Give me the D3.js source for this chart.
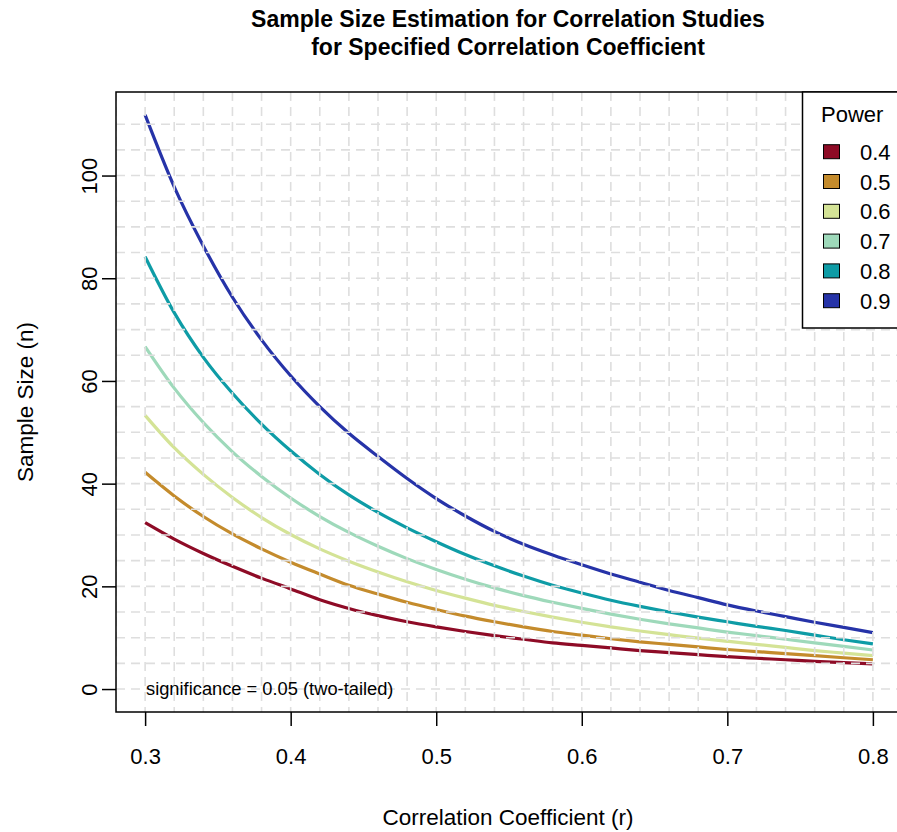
<!DOCTYPE html>
<html>
<head>
<meta charset="utf-8">
<script src="https://cdn.jsdelivr.net/npm/d3@7"></script>
<style>
  html, body { margin: 0; padding: 0; background: #fff; }
  svg { display: block; font-family: "Liberation Sans", Arial, sans-serif; }
</style>
</head>
<body>
<svg id="chart" width="897" height="832"></svg>
<script>
// ---- data ----
const rValues = [0.30,0.32,0.34,0.36,0.38,0.40,0.42,0.44,0.46,0.48,0.50,0.52,0.54,0.56,0.58,0.60,0.62,0.64,0.66,0.68,0.70,0.72,0.74,0.76,0.78,0.80];
const power04 = [32.4,29.2,26.4,23.9,21.6,19.5,17.4,15.7,14.3,13.1,12.1,11.2,10.4,9.7,9.0,8.5,8.0,7.5,7.1,6.7,6.3,6.0,5.7,5.4,5.15,4.9];
const power05 = [42.2,37.6,33.6,30.2,27.3,24.7,22.4,20.2,18.5,16.9,15.5,14.2,13.1,12.1,11.2,10.5,9.8,9.2,8.7,8.2,7.7,7.3,6.9,6.5,6.1,5.7];
const power06 = [53.3,47.0,41.8,37.3,33.4,30.1,27.3,24.9,22.8,20.9,19.2,17.7,16.3,15.1,14.0,13.0,12.1,11.3,10.6,9.9,9.3,8.7,8.1,7.5,7.0,6.5];
const power07 = [66.7,58.6,51.9,46.2,41.4,37.2,33.6,30.5,27.8,25.4,23.3,21.4,19.7,18.2,16.9,15.7,14.6,13.6,12.7,11.9,11.1,10.4,9.7,9.0,8.3,7.6];
const power08 = [84.2,73.3,64.6,57.6,51.6,46.4,41.8,37.8,34.4,31.4,28.7,26.2,24.0,22.0,20.2,18.7,17.3,16.1,15.0,14.0,13.1,12.2,11.4,10.5,9.6,8.8];
const power09 = [111.8,97.8,86.3,76.3,68.0,61.0,55.0,49.8,45.3,41.0,37.1,33.7,30.7,28.2,26.1,24.2,22.4,20.8,19.2,17.8,16.4,15.2,14.1,13.0,12.0,11.0];
const powerLabels = ["0.4","0.5","0.6","0.7","0.8","0.9"];
const seriesColors = ["#8E0B26","#C48B2C","#D4E396","#9ED9BA","#0E9CA6","#2633A8"];
const xTicks = [0.3,0.4,0.5,0.6,0.7,0.8];
const yTicks = [0,20,40,60,80,100];
const xGrid = d3.range(0.28, 0.8201, 0.02);
const yGrid = d3.range(0, 111, 5);

const seriesValues = [power04, power05, power06, power07, power08, power09];

// ---- layout ----
const svg = d3.select("#chart");
const plot = { left: 116, right: 902, top: 92, bottom: 712 };

const x = d3.scaleLinear().domain([0.28, 0.82]).range([plot.left, plot.right]);
const y = d3.scaleLinear().domain([-4.47, 116.27]).range([plot.bottom, plot.top]);

svg.append("defs").append("clipPath").attr("id", "clip")
  .append("rect").attr("x", plot.left).attr("y", plot.top)
  .attr("width", plot.right - plot.left).attr("height", plot.bottom - plot.top);

// curves
const line = d3.line()
  .x((d, i) => x(rValues[i]))
  .y(d => y(d))
  .curve(d3.curveMonotoneX);

const gLines = svg.append("g").attr("clip-path", "url(#clip)");
seriesValues.forEach((vals, k) => {
  gLines.append("path")
    .datum(vals)
    .attr("d", line)
    .attr("fill", "none")
    .attr("stroke", seriesColors[k])
    .attr("stroke-width", 3.2)
    .attr("stroke-linejoin", "round");
});

// grid drawn on top (as in reference)
const gGrid = svg.append("g").attr("clip-path", "url(#clip)");
gGrid.selectAll("line.v").data(xGrid).join("line")
  .attr("x1", d => x(d)).attr("x2", d => x(d))
  .attr("y1", plot.top).attr("y2", plot.bottom)
  .attr("stroke", "#dedede").attr("stroke-width", 1.6)
  .attr("stroke-dasharray", "9,6");
gGrid.selectAll("line.h").data(yGrid).join("line")
  .attr("y1", d => y(d)).attr("y2", d => y(d))
  .attr("x1", plot.left).attr("x2", plot.right)
  .attr("stroke", "#dedede").attr("stroke-width", 1.6)
  .attr("stroke-dasharray", "9,6");

// box
svg.append("rect")
  .attr("x", plot.left).attr("y", plot.top)
  .attr("width", plot.right - plot.left).attr("height", plot.bottom - plot.top)
  .attr("fill", "none").attr("stroke", "#000").attr("stroke-width", 1.5);

// axes
const xAxis = d3.axisBottom(x).tickValues(xTicks).tickSize(14).tickPadding(22)
  .tickFormat(d3.format(".1f"));
const gx = svg.append("g").attr("transform", `translate(0,${plot.bottom})`).call(xAxis);
gx.select(".domain").remove();
gx.selectAll(".tick line").attr("stroke", "#000").attr("stroke-width", 1.5);
gx.selectAll(".tick text").attr("font-size", 22).attr("fill", "#000")
  .attr("font-family", "Liberation Sans, Arial, sans-serif");

const yAxis = d3.axisLeft(y).tickValues(yTicks).tickSize(14).tickFormat(d3.format("d"));
const gy = svg.append("g").attr("transform", `translate(${plot.left},0)`).call(yAxis);
gy.select(".domain").remove();
gy.selectAll(".tick line").attr("stroke", "#000").attr("stroke-width", 1.5);
gy.selectAll(".tick text")
  .attr("x", null).attr("dy", null)
  .attr("transform", "translate(-19,0) rotate(-90)")
  .attr("text-anchor", "middle")
  .attr("font-size", 22).attr("fill", "#000")
  .attr("font-family", "Liberation Sans, Arial, sans-serif");

// titles
const title = svg.append("text").attr("text-anchor", "middle")
  .attr("font-weight", "bold").attr("font-size", 23).attr("fill", "#000");
title.append("tspan").attr("x", 508).attr("y", 27).text("Sample Size Estimation for Correlation Studies");
title.append("tspan").attr("x", 508).attr("y", 55).text("for Specified Correlation Coefficient");

svg.append("text").attr("x", 508).attr("y", 825).attr("text-anchor", "middle")
  .attr("font-size", 22.5).attr("fill", "#000").text("Correlation Coefficient (r)");

svg.append("text").attr("transform", "translate(33,402) rotate(-90)").attr("text-anchor", "middle")
  .attr("font-size", 22.5).attr("fill", "#000").text("Sample Size (n)");

svg.append("text").attr("x", 146).attr("y", 694.5)
  .attr("font-size", 18.3).attr("fill", "#000").text("significance = 0.05 (two-tailed)");

// legend
const leg = svg.append("g");
leg.append("rect").attr("x", 802.5).attr("y", plot.top).attr("width", 110).attr("height", 236)
  .attr("fill", "#fff").attr("stroke", "#000").attr("stroke-width", 1.5);
leg.append("text").attr("x", 821).attr("y", 122).attr("font-size", 22).attr("fill", "#000").text("Power");
powerLabels.forEach((lab, i) => {
  const cy = 151.7 + i * 29.8;
  leg.append("rect").attr("x", 823.5).attr("y", cy - 7).attr("width", 16).attr("height", 14)
    .attr("fill", seriesColors[i]).attr("stroke", "#000").attr("stroke-width", 1);
  leg.append("text").attr("x", 860).attr("y", cy + 8).attr("font-size", 22).attr("fill", "#000").text(lab);
});
</script>
</body>
</html>
